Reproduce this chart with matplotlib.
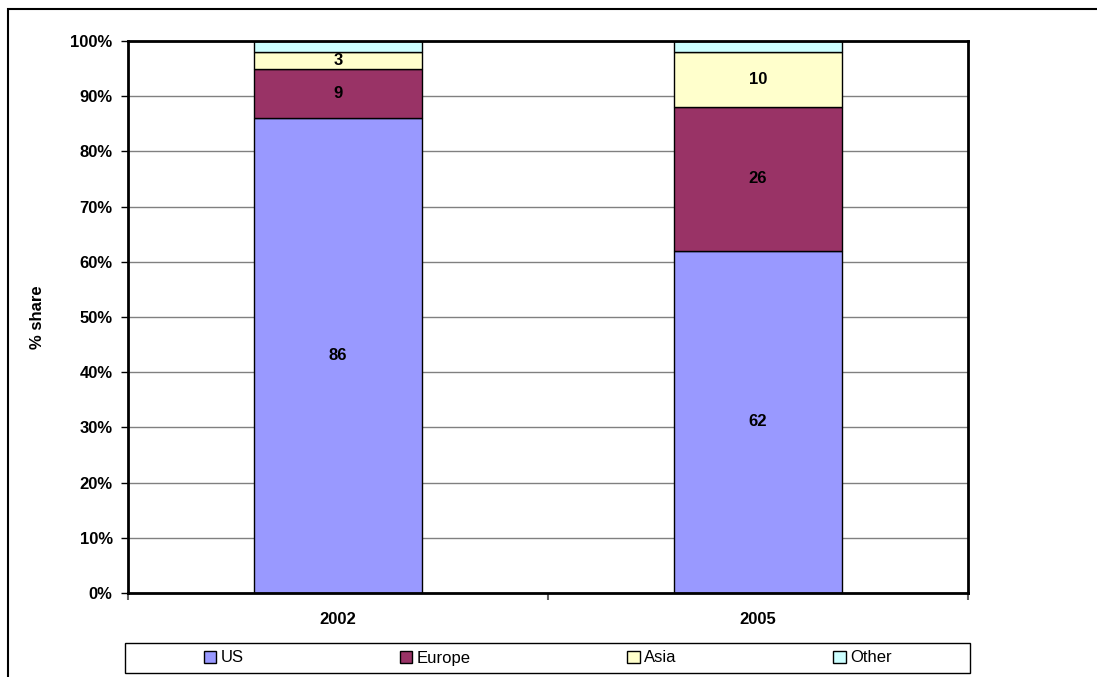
import matplotlib.pyplot as plt
from matplotlib.patches import Rectangle
from matplotlib.ticker import MultipleLocator, FuncFormatter

plt.rcParams['font.family'] = ['Liberation Sans', 'DejaVu Sans']

years = ["2002", "2005"]
regions = ["US", "Europe", "Asia", "Other"]
us = [86, 62]
europe = [9, 26]
asia = [3, 10]
other = [2, 2]
colors = ["#9999FF", "#993366", "#FFFFCC", "#CCFFFF"]
show_label = [True, True, True, False]

W, H = 1097, 677
fig = plt.figure(figsize=(W / 100, H / 100), dpi=100)
ax = fig.add_axes([128 / W, 1 - 593 / H, 840 / W, 552 / H])

x = list(range(len(years)))
bottoms = [0] * len(years)
for name, vals, col, lab in zip(regions, [us, europe, asia, other], colors, show_label):
    bars = ax.bar(x, vals, width=0.4, bottom=bottoms, color=col, edgecolor="black",
                  linewidth=1.0, label=name, zorder=3)
    if lab:
        for xi, v, b in zip(x, vals, bottoms):
            ax.text(xi, b + v / 2, str(v), ha="center", va="center",
                    fontsize=12, fontweight="bold", zorder=4)
    bottoms = [b + v for b, v in zip(bottoms, vals)]

ax.set_xlim(-0.5, 1.5)
ax.set_ylim(0, 100)
ax.yaxis.set_major_locator(MultipleLocator(10))
ax.yaxis.set_major_formatter(FuncFormatter(lambda v, p: "%d%%" % v))
ax.grid(axis="y", color="#808080", linewidth=1.0, zorder=0)

# category boundary ticks on x, labels centred under bars
ax.set_xticks([-0.5, 0.5, 1.5])
ax.set_xticklabels([])
ax.set_xticks(x, minor=True)
ax.set_xticklabels(years, minor=True, fontsize=12, fontweight="bold")
ax.tick_params(axis="x", which="minor", length=0, pad=14)
ax.tick_params(axis="x", which="major", length=5, color="#606060", width=1.5)
ax.tick_params(axis="y", length=5, width=1.0, pad=6)
for t in ax.get_yticklabels():
    t.set_fontsize(12)
    t.set_fontweight("bold")

for s in ax.spines.values():
    s.set_linewidth(2)
    s.set_color("black")
    s.set_zorder(5)

ax.set_ylabel("% share", fontsize=12, fontweight="bold")
ax.yaxis.set_label_coords(-83 / 840, 0.5)

# outer chart frame
fig.patches.append(Rectangle((8 / W, -0.2), 1.2, 1.2 - 9 / H,
                             transform=fig.transFigure, fill=False,
                             edgecolor="black", linewidth=1.5))

# legend box
fig.patches.append(Rectangle((125 / W, 1 - 673 / H), 845 / W, 30 / H,
                             transform=fig.transFigure, fill=False,
                             edgecolor="black", linewidth=1.0))
fig.legend(loc="center", bbox_to_anchor=(547.5 / W, 1 - 658 / H), ncol=4,
           frameon=False, fontsize=12, handlelength=0.75, handleheight=0.75,
           handletextpad=0.25, columnspacing=9.4)

fig.savefig("out.png", dpi=100)
